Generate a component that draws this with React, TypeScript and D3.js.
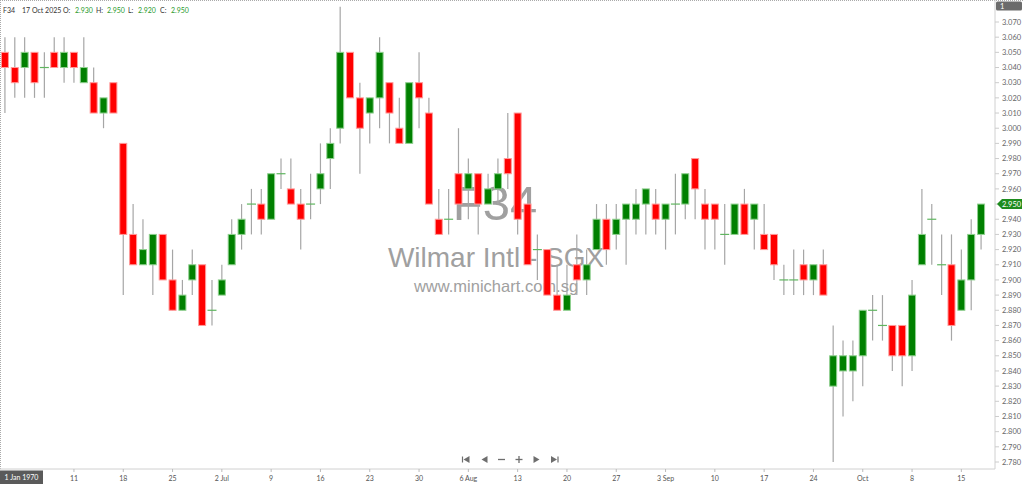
import React, { useEffect, useRef } from 'react';
import * as d3 from 'd3';

// daily OHLC, F34 Wilmar Intl, 2 Jun - 17 Oct 2025
const opens = [
  3.05, 3.04, 3.04, 3.05, 3.04, 3.05, 3.04, 3.05, 3.03, 3.03,
  3.01, 3.03, 2.99, 2.93, 2.91, 2.91, 2.93, 2.9, 2.88, 2.9,
  2.91, 2.88, 2.89, 2.91, 2.93, 2.95, 2.95, 2.94, 2.97, 2.96,
  2.95, 2.95, 2.96, 2.98, 3.0, 3.05, 3.02, 3.01, 3.02, 3.03,
  3.0, 2.99, 3.03, 3.01, 2.94, 2.94, 2.97, 2.96, 2.97, 2.95,
  2.96, 2.98, 3.01, 2.95, 2.92, 2.92, 2.89, 2.88, 2.91, 2.9,
  2.92, 2.94, 2.93, 2.94, 2.94, 2.95, 2.95, 2.94, 2.95, 2.95,
  2.98, 2.95, 2.95, 2.93, 2.93, 2.95, 2.94, 2.93, 2.93, 2.9,
  2.9, 2.91, 2.9, 2.91, 2.83, 2.84, 2.84, 2.85, 2.88, 2.87,
  2.87, 2.87, 2.85, 2.91, 2.94, 2.91, 2.91, 2.88, 2.9, 2.93,
];
const highs = [
  3.06, 3.06, 3.06, 3.05, 3.05, 3.06, 3.06, 3.05, 3.06, 3.04,
  3.02, 3.03, 2.99, 2.95, 2.94, 2.93, 2.93, 2.92, 2.9, 2.92,
  2.91, 2.9, 2.91, 2.94, 2.95, 2.96, 2.96, 2.97, 2.98, 2.98,
  2.96, 2.97, 2.99, 3.0, 3.08, 3.05, 3.03, 3.02, 3.06, 3.03,
  3.02, 3.03, 3.05, 3.02, 2.96, 2.96, 3.0, 2.98, 2.97, 2.97,
  2.98, 3.01, 3.01, 2.95, 2.93, 2.92, 2.91, 2.91, 2.93, 2.92,
  2.95, 2.95, 2.95, 2.95, 2.96, 2.96, 2.96, 2.95, 2.97, 2.97,
  2.98, 2.96, 2.95, 2.95, 2.95, 2.96, 2.95, 2.95, 2.93, 2.91,
  2.92, 2.92, 2.91, 2.92, 2.87, 2.86, 2.86, 2.88, 2.89, 2.89,
  2.87, 2.87, 2.9, 2.96, 2.95, 2.93, 2.93, 2.92, 2.94, 2.95,
];
const lows = [
  3.01, 3.02, 3.02, 3.02, 3.02, 3.04, 3.03, 3.03, 3.03, 3.01,
  3.0, 3.01, 2.89, 2.91, 2.91, 2.89, 2.9, 2.88, 2.88, 2.89,
  2.87, 2.87, 2.89, 2.91, 2.92, 2.93, 2.93, 2.94, 2.96, 2.95,
  2.92, 2.94, 2.95, 2.96, 2.99, 3.02, 2.97, 2.99, 3.0, 2.99,
  2.99, 2.99, 3.0, 2.95, 2.93, 2.93, 2.95, 2.94, 2.93, 2.95,
  2.95, 2.96, 2.93, 2.91, 2.9, 2.89, 2.88, 2.88, 2.89, 2.89,
  2.92, 2.91, 2.92, 2.91, 2.93, 2.93, 2.93, 2.92, 2.93, 2.94,
  2.94, 2.92, 2.92, 2.91, 2.93, 2.93, 2.92, 2.92, 2.9, 2.89,
  2.89, 2.89, 2.89, 2.89, 2.78, 2.81, 2.82, 2.83, 2.86, 2.86,
  2.84, 2.83, 2.84, 2.91, 2.91, 2.89, 2.86, 2.88, 2.88, 2.92,
];
const closes = [
  3.04, 3.03, 3.05, 3.03, 3.04, 3.04, 3.05, 3.04, 3.04, 3.01,
  3.02, 3.01, 2.93, 2.91, 2.92, 2.93, 2.9, 2.88, 2.89, 2.91,
  2.87, 2.88, 2.9, 2.93, 2.94, 2.95, 2.94, 2.97, 2.97, 2.95,
  2.94, 2.95, 2.97, 2.99, 3.05, 3.02, 3.0, 3.02, 3.05, 3.01,
  2.99, 3.03, 3.02, 2.95, 2.93, 2.94, 2.95, 2.97, 2.95, 2.96,
  2.97, 2.97, 2.94, 2.91, 2.92, 2.89, 2.88, 2.89, 2.9, 2.91,
  2.94, 2.92, 2.94, 2.95, 2.95, 2.96, 2.94, 2.95, 2.95, 2.97,
  2.96, 2.94, 2.94, 2.93, 2.95, 2.93, 2.95, 2.92, 2.91, 2.9,
  2.9, 2.9, 2.91, 2.89, 2.85, 2.85, 2.85, 2.88, 2.88, 2.87,
  2.85, 2.85, 2.89, 2.93, 2.94, 2.91, 2.87, 2.9, 2.93, 2.95,
];

const tickDates = [
  '2025-06-11', '2025-06-18', '2025-06-25', '2025-07-02', '2025-07-09',
  '2025-07-16', '2025-07-23', '2025-07-30', '2025-08-06', '2025-08-13',
  '2025-08-20', '2025-08-27', '2025-09-03', '2025-09-10', '2025-09-17',
  '2025-09-24', '2025-10-01', '2025-10-08', '2025-10-15',
];
const tickLabels = [
  '11', '18', '25', '2 Jul', '9', '16', '23', '30', '6 Aug', '13',
  '20', '27', '3 Sep', '10', '17', '24', 'Oct', '8', '15',
];
const priceTicks = [
  3.07, 3.06, 3.05, 3.04, 3.03, 3.02, 3.01, 3.0, 2.99, 2.98, 2.97, 2.96,
  2.95, 2.94, 2.93, 2.92, 2.91, 2.9, 2.89, 2.88, 2.87, 2.86, 2.85, 2.84,
  2.83, 2.82, 2.81, 2.8, 2.79, 2.78,
];

const fmtKey = d3.timeFormat('%Y-%m-%d');
// trading days (weekdays)
const days = d3.timeDay
  .range(new Date(2025, 5, 2), new Date(2025, 9, 18))
  .filter((d) => d.getDay() % 6 !== 0)
  .map(fmtKey);

const data = days.map((day, i) => ({
  day,
  o: opens[i],
  h: highs[i],
  l: lows[i],
  c: closes[i],
}));

const FONT = 'Lato, "Open Sans", sans-serif';
const UP = '#008000';
const DOWN = '#ff0000';

export default function App() {
  const svgRef = useRef<SVGSVGElement | null>(null);

  const W = 1024;
  const H = 484;
  const axisX = 995;
  const axisY = 469;

  useEffect(() => {
    const svg = d3.select(svgRef.current);
    svg.selectAll('*').remove();

    const x = d3.scaleBand().domain(days).range([0, 986]).padding(0);
    const y = d3.scaleLinear().domain([2.78, 3.07]).range([462, 22]);
    const cx = (d: string) => (x(d) || 0) + x.bandwidth() / 2;
    const bw = 7;

    svg.append('rect').attr('width', W).attr('height', H).attr('fill', '#fff');

    // frame
    svg
      .append('line')
      .attr('x1', 0).attr('x2', W).attr('y1', 0.5).attr('y2', 0.5)
      .attr('stroke', '#aaa').attr('stroke-dasharray', '1,1');
    svg
      .append('line')
      .attr('x1', 0.5).attr('x2', 0.5).attr('y1', 0).attr('y2', axisY)
      .attr('stroke', '#aaa').attr('stroke-dasharray', '1,1');

    // watermark
    const wm = svg.append('g').attr('fill', '#a0a0a0').attr('text-anchor', 'middle')
      .style('font-family', 'Arial, "Liberation Sans", sans-serif');
    wm.append('text').attr('x', 495).attr('y', 220).attr('font-size', 49).text('F34');
    wm.append('text').attr('x', 496).attr('y', 267).attr('font-size', 28).text('Wilmar Intl - SGX');
    wm.append('text').attr('x', 496).attr('y', 292).attr('font-size', 16.5).text('www.minichart.com.sg');

    // wicks
    svg
      .append('g')
      .selectAll('line')
      .data(data.filter((d) => d.h > Math.max(d.o, d.c) || d.l < Math.min(d.o, d.c)))
      .join('line')
      .attr('x1', (d) => cx(d.day))
      .attr('x2', (d) => cx(d.day))
      .attr('y1', (d) => y(d.h))
      .attr('y2', (d) => y(d.l))
      .attr('stroke', '#a6a6a6')
      .attr('stroke-width', 1.2);

    // bodies
    svg
      .append('g')
      .selectAll('rect')
      .data(data.filter((d) => d.o !== d.c))
      .join('rect')
      .attr('x', (d) => cx(d.day) - bw / 2)
      .attr('y', (d) => y(Math.max(d.o, d.c)))
      .attr('width', bw)
      .attr('height', (d) => Math.abs(y(d.o) - y(d.c)))
      .attr('fill', (d) => (d.c > d.o ? UP : DOWN))
      .attr('stroke', (d) => (d.c > d.o ? '#8fd08f' : '#ff9a9a'))
      .attr('stroke-width', 1);

    // dojis
    svg
      .append('g')
      .selectAll('line')
      .data(data.filter((d) => d.o === d.c))
      .join('line')
      .attr('x1', (d) => cx(d.day) - 4.5)
      .attr('x2', (d) => cx(d.day) + 4.5)
      .attr('y1', (d) => y(d.c))
      .attr('y2', (d) => y(d.c))
      .attr('stroke', '#5fb55f')
      .attr('stroke-width', 1.2);

    // right price axis
    svg
      .append('line')
      .attr('x1', axisX).attr('x2', axisX).attr('y1', 0).attr('y2', axisY)
      .attr('stroke', '#d0d0d0');
    const ya = svg.append('g').style('font-family', FONT).attr('font-size', 7.5).attr('fill', '#666');
    priceTicks.forEach((p) => {
      ya.append('line')
        .attr('x1', axisX).attr('x2', axisX + 4).attr('y1', y(p)).attr('y2', y(p))
        .attr('stroke', '#ccc');
      ya.append('text').attr('x', 1002).attr('y', y(p) + 2.7).text(p.toFixed(3));
    });

    // last price tag
    const last = data[data.length - 1];
    const ly = y(last.c);
    svg
      .append('path')
      .attr('d', `M${axisX + 2},${ly} L${axisX + 7},${ly - 5} H1022 V${ly + 5} H${axisX + 7} Z`)
      .attr('fill', '#1e8c1e');
    svg
      .append('text')
      .attr('x', 1002).attr('y', ly + 2.7)
      .attr('font-size', 7.5).style('font-family', FONT).attr('fill', '#fff')
      .text(last.c.toFixed(3));

    // "1" box
    svg.append('rect').attr('x', 996).attr('y', 1.5).attr('width', 26).attr('height', 9)
      .attr('rx', 1.5).attr('fill', '#6b6b6b');
    svg.append('text').attr('x', 1000).attr('y', 8.8).attr('font-size', 7.5)
      .style('font-family', FONT).attr('fill', '#fff').text('1');

    // bottom date axis
    svg
      .append('line')
      .attr('x1', 0).attr('x2', axisX).attr('y1', axisY).attr('y2', axisY)
      .attr('stroke', '#d0d0d0');
    const xa = svg.append('g').style('font-family', FONT).attr('font-size', 7).attr('fill', '#555')
      .attr('text-anchor', 'middle');
    tickDates.forEach((d, i) => {
      const tx = cx(d);
      xa.append('line').attr('x1', tx).attr('x2', tx).attr('y1', axisY).attr('y2', axisY + 3)
        .attr('stroke', '#bbb');
      xa.append('text').attr('x', tx).attr('y', 481).text(tickLabels[i]);
    });
    svg.append('rect').attr('x', 0).attr('y', 470.5).attr('width', 43).attr('height', 13.5)
      .attr('fill', '#5a5a5a');
    svg.append('text').attr('x', 21.5).attr('y', 480).attr('text-anchor', 'middle')
      .attr('font-size', 7).style('font-family', FONT).attr('fill', '#fff').text('1 Jan 1970');

    // navigation controls
    const nav = svg.append('g').attr('fill', '#6e6e6e').attr('stroke', '#6e6e6e');
    const ny = 459.5;
    nav.append('line').attr('x1', 462.5).attr('x2', 462.5).attr('y1', ny - 3).attr('y2', ny + 3).attr('stroke-width', 1.2);
    nav.append('path').attr('d', `M463.5,${ny} L469.5,${ny - 3.5} V${ny + 3.5} Z`).attr('stroke', 'none');
    nav.append('path').attr('d', `M481.5,${ny} L487.5,${ny - 3.5} V${ny + 3.5} Z`).attr('stroke', 'none');
    nav.append('line').attr('x1', 498).attr('x2', 505).attr('y1', ny).attr('y2', ny).attr('stroke-width', 1.3);
    nav.append('line').attr('x1', 515.5).attr('x2', 522.5).attr('y1', ny).attr('y2', ny).attr('stroke-width', 1.3);
    nav.append('line').attr('x1', 519).attr('x2', 519).attr('y1', ny - 3.5).attr('y2', ny + 3.5).attr('stroke-width', 1.3);
    nav.append('path').attr('d', `M539.5,${ny} L533.5,${ny - 3.5} V${ny + 3.5} Z`).attr('stroke', 'none');
    nav.append('path').attr('d', `M557,${ny} L551,${ny - 3.5} V${ny + 3.5} Z`).attr('stroke', 'none');
    nav.append('line').attr('x1', 558).attr('x2', 558).attr('y1', ny - 3).attr('y2', ny + 3).attr('stroke-width', 1.2);

    // header
    const hd = svg.append('g').style('font-family', FONT).attr('font-size', 7);
    const hy = 12.5;
    const lbl = (tx: number, t: string, col: string) =>
      hd.append('text').attr('x', tx).attr('y', hy).attr('fill', col).text(t);
    lbl(3, 'F34', '#333');
    lbl(22, '17 Oct 2025', '#333');
    lbl(63, 'O:', '#333');
    lbl(75, last.o.toFixed(3), '#2a9a2a');
    lbl(96, 'H:', '#333');
    lbl(107, last.h.toFixed(3), '#2a9a2a');
    lbl(128, 'L:', '#333');
    lbl(138, last.l.toFixed(3), '#2a9a2a');
    lbl(160, 'C:', '#333');
    lbl(171, last.c.toFixed(3), '#2a9a2a');
  });

  return (
    <svg
      ref={svgRef}
      width={W}
      height={H}
      style={{ position: 'absolute', left: 0, top: 0 }}
    ></svg>
  );
}
